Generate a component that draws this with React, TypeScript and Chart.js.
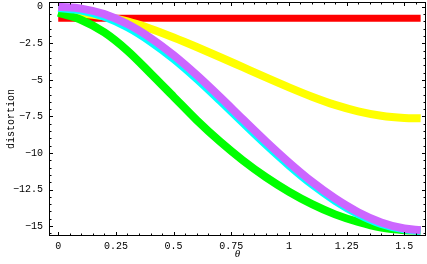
import React, { useEffect, useRef } from "react";
import { Chart, registerables } from "chart.js";

Chart.register(...registerables);

// theta values (radians)
const theta = [0, 0.1, 0.2, 0.3, 0.4, 0.5, 0.6, 0.7, 0.8, 0.9, 1.0, 1.1, 1.2, 1.3, 1.4, 1.5, 1.5708];

// series values
const purpleValues = [0, -0.12, -0.5, -1.18, -2.13, -3.31, -4.67, -6.15, -7.69, -9.21, -10.65, -11.97, -13.11, -14.05, -14.75, -15.17, -15.28];
const cyanValues = [-0.08, -0.25, -0.68, -1.4, -2.38, -3.56, -4.92, -6.4, -7.93, -9.43, -10.85, -12.15, -13.27, -14.18, -14.85, -15.23, -15.32];
const greenValues = [-0.4, -0.9, -1.75, -3.0, -4.55, -6.15, -7.75, -9.2, -10.5, -11.65, -12.65, -13.5, -14.2, -14.72, -15.1, -15.28, -15.32];
const yellowValues = [-0.4, -0.45, -0.65, -1.0, -1.5, -2.1, -2.75, -3.43, -4.13, -4.83, -5.51, -6.15, -6.71, -7.15, -7.45, -7.6, -7.63];
const redValues = [-0.78, -0.78, -0.78, -0.78, -0.78, -0.78, -0.78, -0.78, -0.78, -0.78, -0.78, -0.78, -0.78, -0.78, -0.78, -0.78, -0.78];

// axis ticks
const xTickValues = [0, 0.25, 0.5, 0.75, 1, 1.25, 1.5];
const xTickLabels = ["0", "0.25", "0.5", "0.75", "1", "1.25", "1.5"];
const yTickValues = [0, -2.5, -5, -7.5, -10, -12.5, -15];
const yTickLabels = ["0", "\u22122.5", "\u22125", "\u22127.5", "\u221210", "\u221212.5", "\u221215"];
const xMinorStep = 0.05;
const yMinorStep = 0.5;

const xTitle = "\u03b8";
const yTitle = "distortion";

const toPoints = (vals: number[]) => theta.map((t, i) => ({ x: t, y: vals[i] }));

const framePlugin = {
  id: "mmaFrame",
  afterDatasetsDraw(chart: any) {
    const { ctx, chartArea, scales } = chart;
    const { left, right, top, bottom } = chartArea;
    const xs = scales.x;
    const ys = scales.y;
    ctx.save();
    ctx.strokeStyle = "#000";
    ctx.lineWidth = 1;
    ctx.strokeRect(left + 0.5, top + 0.5, right - left - 1, bottom - top - 1);
    ctx.beginPath();
    const kx0 = Math.ceil(xs.min / xMinorStep - 1e-9);
    const kx1 = Math.floor(xs.max / xMinorStep + 1e-9);
    for (let k = kx0; k <= kx1; k++) {
      const v = k * xMinorStep;
      const major = k % 5 === 0;
      const len = major ? 4 : 2.5;
      const px = Math.round(xs.getPixelForValue(v)) + 0.5;
      ctx.moveTo(px, bottom);
      ctx.lineTo(px, bottom - len);
      ctx.moveTo(px, top);
      ctx.lineTo(px, top + len);
    }
    const ky0 = Math.ceil(ys.min / yMinorStep - 1e-9);
    const ky1 = Math.floor(ys.max / yMinorStep + 1e-9);
    for (let k = ky0; k <= ky1; k++) {
      const v = k * yMinorStep;
      const major = k % 5 === 0;
      const len = major ? 4 : 2.5;
      const py = Math.round(ys.getPixelForValue(v)) + 0.5;
      ctx.moveTo(left, py);
      ctx.lineTo(left + len, py);
      ctx.moveTo(right, py);
      ctx.lineTo(right - len, py);
    }
    ctx.stroke();
    ctx.restore();
  },
};

export default function App() {
  const canvasRef = useRef<HTMLCanvasElement | null>(null);

  useEffect(() => {
    document.body.style.margin = "0";
    const canvas = canvasRef.current;
    if (!canvas) return;
    const mk = (label: string, vals: number[], color: string, width: number) => ({
      label,
      data: toPoints(vals),
      borderColor: color,
      backgroundColor: color,
      borderWidth: width,
      pointRadius: 0,
      showLine: true,
      fill: false,
      cubicInterpolationMode: "monotone" as const,
      borderCapStyle: "butt" as const,
    });
    const chart = new Chart(canvas, {
      type: "scatter",
      data: {
        datasets: [
          mk("purple", purpleValues, "#CC66FF", 8),
          mk("cyan", cyanValues, "#00FFFF", 8),
          mk("green", greenValues, "#00FF00", 8),
          mk("yellow", yellowValues, "#FFFF00", 8),
          mk("red", redValues, "#FF0000", 7),
        ],
      },
      options: {
        animation: false,
        responsive: false,
        devicePixelRatio: 1,
        layout: { padding: { left: 0, top: 2, right: 1, bottom: 0 } },
        plugins: { legend: { display: false }, tooltip: { enabled: false } },
        scales: {
          x: {
            type: "linear",
            min: -0.04,
            max: 1.594,
            grid: { display: false, drawTicks: false },
            border: { display: false },
            afterBuildTicks: (scale: any) => {
              scale.ticks = xTickValues.map((v) => ({ value: v }));
            },
            afterFit: (scale: any) => {
              scale.height = 28;
              scale.paddingLeft = 0;
              scale.paddingRight = 0;
              scale.paddingTop = 0;
              scale.paddingBottom = 0;
            },
            ticks: {
              autoSkip: false,
              maxRotation: 0,
              padding: 4,
              color: "#000",
              font: { family: "'Liberation Mono', monospace", size: 10 },
              callback: (value: any) => {
                const i = xTickValues.findIndex((v) => Math.abs(v - Number(value)) < 1e-9);
                return i >= 0 ? xTickLabels[i] : "";
              },
            },
            title: {
              display: true,
              text: xTitle,
              color: "#000",
              font: { family: "'Liberation Serif', serif", size: 11, style: "italic" },
              padding: { top: 0, bottom: 3 },
            },
          },
          y: {
            type: "linear",
            min: -15.68,
            max: 0.33,
            grid: { display: false, drawTicks: false },
            border: { display: false },
            afterBuildTicks: (scale: any) => {
              scale.ticks = yTickValues.map((v) => ({ value: v }));
            },
            afterFit: (scale: any) => {
              scale.width = 49;
              scale.paddingLeft = 0;
              scale.paddingRight = 0;
              scale.paddingTop = 0;
              scale.paddingBottom = 0;
            },
            ticks: {
              autoSkip: false,
              padding: 6,
              color: "#000",
              font: { family: "'Liberation Mono', monospace", size: 10 },
              callback: (value: any) => {
                const i = yTickValues.findIndex((v) => Math.abs(v - Number(value)) < 1e-9);
                return i >= 0 ? yTickLabels[i] : "";
              },
            },
            title: {
              display: true,
              text: yTitle,
              color: "#000",
              font: { family: "'Liberation Mono', monospace", size: 10 },
              padding: { top: 5, bottom: 0 },
            },
          },
        },
      },
      plugins: [framePlugin],
    });
    return () => chart.destroy();
  }, []);

  return (
    <div style={{ width: 427, height: 264, background: "#fff" }}>
      <canvas ref={canvasRef} width={427} height={264} style={{ display: "block", width: 427, height: 264 }} />
    </div>
  );
}
